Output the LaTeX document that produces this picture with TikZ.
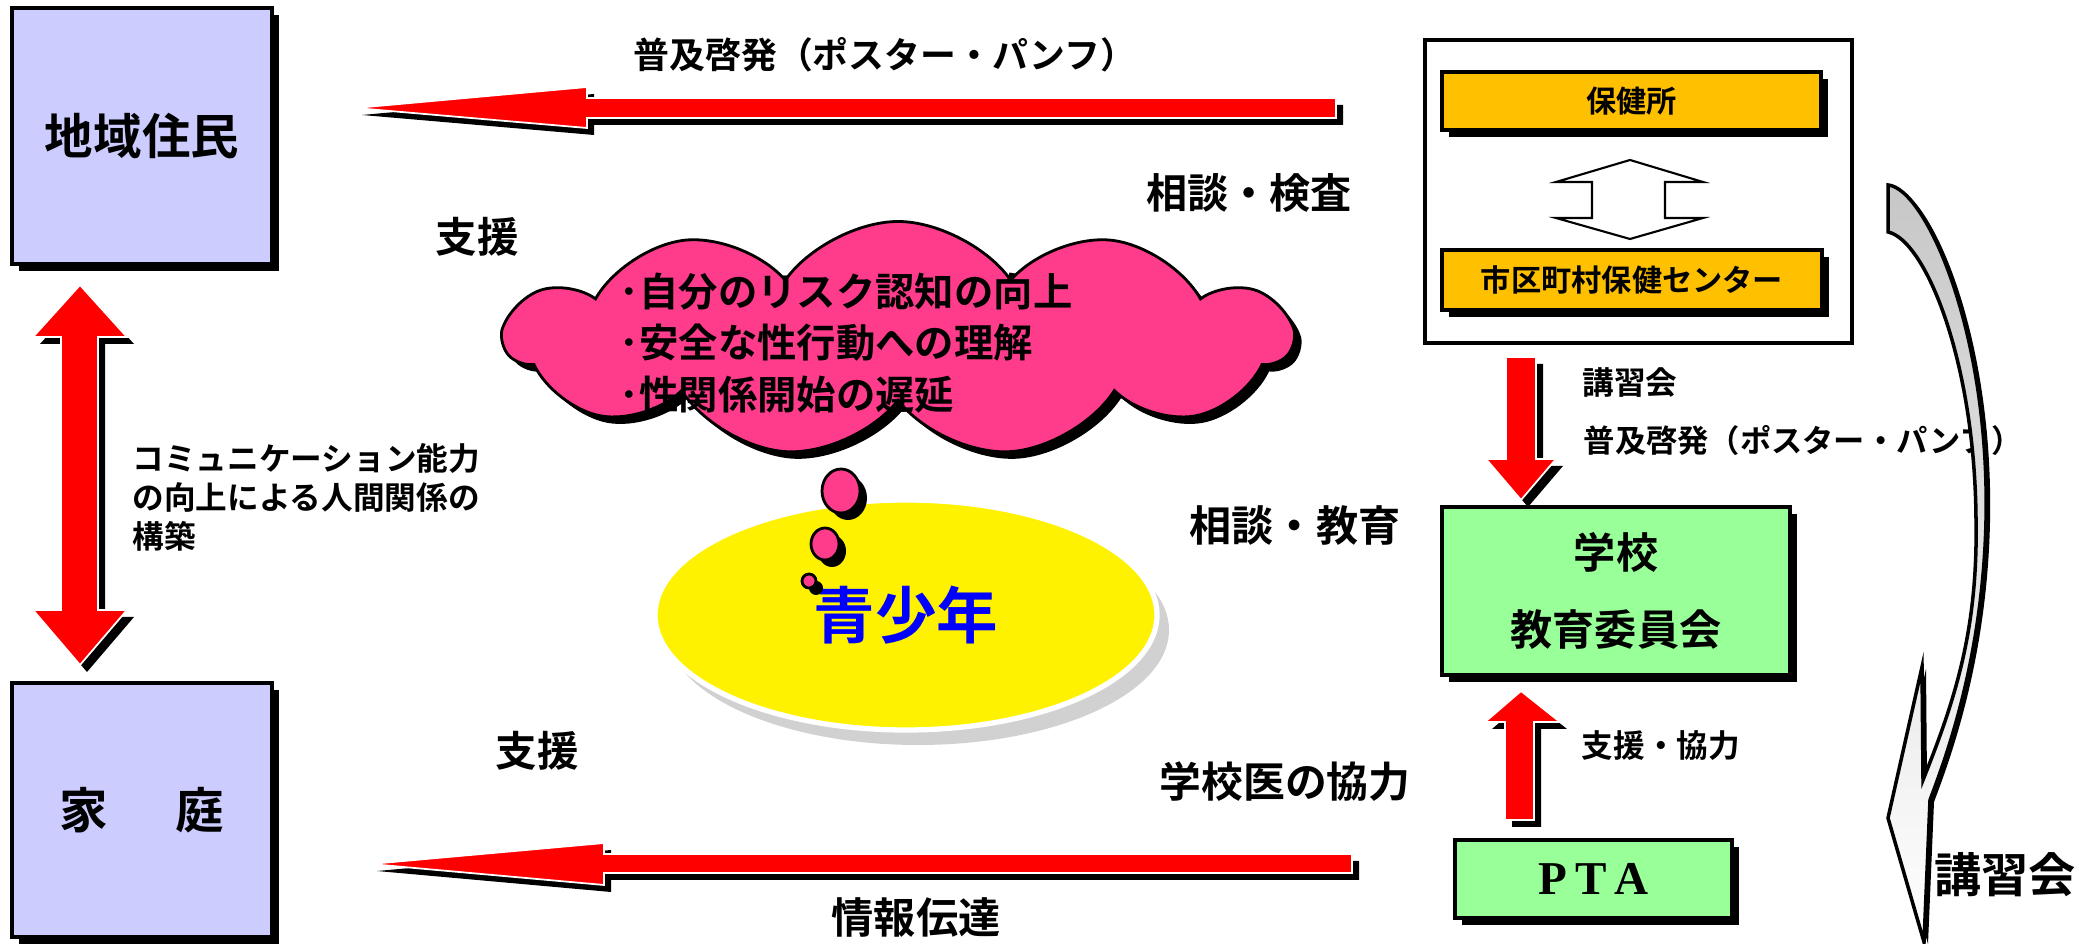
\documentclass[tikz,border=0pt]{standalone}
\usepackage{fontspec}
\setmainfont{Noto Sans CJK JP}[BoldFont={Noto Sans CJK JP Bold}]
\newfontfamily\serifpta{Liberation Serif}
\usetikzlibrary{shapes.geometric,shapes.symbols,shadows}

\definecolor{boxblue}{RGB}{204,204,255}
\definecolor{boxorange}{RGB}{255,192,0}
\definecolor{boxgreen}{RGB}{153,255,153}
\definecolor{cloudpink}{RGB}{255,60,140}
\definecolor{textblue}{RGB}{0,0,255}
\newcommand{\jfs}[2]{\fontsize{#1}{#2}\selectfont\bfseries}

\begin{document}
\begin{tikzpicture}[x=0.1mm, y=-0.1mm,
  blackshadow/.style={drop shadow={shadow xshift=0.7mm, shadow yshift=-0.7mm, opacity=1, fill=black}},
  box/.style={draw=black, line width=0.9pt, inner sep=0pt, blackshadow},
  txt/.style={inner sep=0pt, font=\jfs{#1}{#1}},
  redarrow/.style={fill=red, draw=white, line width=0.5pt, blackshadow},
  bubble/.style={ellipse, draw=black, line width=0.8pt, fill=cloudpink, inner sep=0pt, blackshadow}]
\useasboundingbox (0,0) rectangle (2079,944);

% left side
\node[box, fill=boxblue, minimum width=26mm, minimum height=25.6mm, font=\jfs{13.8}{13.8}] (resident) at (142,136) {地域住民};
\node[box, fill=boxblue, minimum width=26mm, minimum height=25.4mm, font=\jfs{13.8}{13.8}] (family) at (142,810) {家\hspace{1.4em}庭};
\filldraw[redarrow] (80,285) -- (127,337) -- (98,337) -- (98,610) -- (127,610) -- (80,665)
  -- (33,610) -- (61,610) -- (61,337) -- (33,337) -- cycle;
\node[inner sep=0pt, anchor=west, align=left, font=\jfs{9}{11.1}] (commu) at (132,497)
  {コミュニケーション能力\\の向上による人間関係の\\構築};

% top
\filldraw[redarrow] (355,108) -- (587,87) -- (587,98) -- (1336,98) -- (1336,118) -- (587,118) -- (587,128) -- cycle;
\node[txt=10.2] (spreadA) at (885,55) {普及啓発（ポスター・パンフ）};
\node[txt=11.7] (consultA) at (1249,193) {相談・検査};
\node[txt=11.8] (supportA) at (477,237) {支援};

% thought cloud
\node[cloud, cloud puffs=11, cloud puff arc=110, cloud ignores aspect, draw=black, line width=0.8pt,
  fill=cloudpink, minimum width=78.6mm, minimum height=23.5mm, blackshadow] (thought) at (898,339) {};
\node[inner sep=0pt, anchor=west, align=left, font=\jfs{11.2}{14.6}] (goals) at (619,343)
  {･自分のリスク認知の向上\\･安全な性行動への理解\\･性関係開始の遅延};

% youth
\node[ellipse, fill=yellow, draw=white, line width=1.5pt, minimum width=50.2mm, minimum height=23mm,
  text=textblue, font=\jfs{17.5}{17.5},
  drop shadow={shadow xshift=1.2mm, shadow yshift=-1.5mm, opacity=1, fill=black!18}] (youth) at (906,615) {青少年};
\node[bubble, minimum width=3.8mm, minimum height=4.4mm] (bubA) at (841,491) {};
\node[bubble, minimum width=2.8mm, minimum height=3.2mm] (bubB) at (825,544) {};
\node[bubble, minimum width=1.4mm, minimum height=1.4mm] (bubC) at (809,581) {};

% bottom
\node[txt=11.8] (supportB) at (537,751) {支援};
\node[txt=11.9] (doctor) at (1285,782) {学校医の協力};
\filldraw[redarrow] (370,864) -- (604,843) -- (604,854) -- (1352,854) -- (1352,873) -- (604,873) -- (604,885) -- cycle;
\node[txt=12] (info) at (916,918) {情報伝達};

% right side
\node[draw=black, line width=1.4pt, fill=white, minimum width=42.7mm, minimum height=30.3mm] (frame) at (1638.5,191.5) {};
\node[box, fill=boxorange, minimum width=37.9mm, minimum height=5.8mm, font=\jfs{8.6}{8.6}] (hc) at (1631.5,101) {保健所};
\node[box, fill=boxorange, minimum width=38mm, minimum height=6mm, font=\jfs{8.6}{8.6}] (hcc) at (1632,280) {市区町村保健センター};
\filldraw[fill=white, draw=black, line width=0.6pt] (1630,160) -- (1703,182) -- (1665,182) -- (1665,218) -- (1703,218)
  -- (1630,239) -- (1556,218) -- (1592,218) -- (1592,182) -- (1556,182) -- cycle;

\filldraw[redarrow] (1506,357) -- (1536,357) -- (1536,459) -- (1556,459) -- (1521,500) -- (1486,459) -- (1506,459) -- cycle;
\node[txt=9] (lectureA) at (1630,383) {講習会};
\node[txt=8.9] (spreadB) at (1803,441) {普及啓発（ポスター・パンフ）};

\node[box, fill=boxgreen, minimum width=34.8mm, minimum height=16.8mm, align=center, font=\jfs{12}{22}] (school) at (1616,591) {学校\\教育委員会};
\node[txt=12] (consultB) at (1295,526) {相談・教育};

\filldraw[redarrow] (1521,691) -- (1560,722) -- (1534,722) -- (1534,820) -- (1505,820) -- (1505,722) -- (1485,722) -- cycle;
\node[txt=9] (supportC) at (1661,746) {支援・協力};
\node[box, fill=boxgreen, minimum width=27.7mm, minimum height=7.8mm, font={\fontsize{13.4}{13.4}\selectfont\serifpta\bfseries}] (pta) at (1593.5,879) {P\,T\,A};

% curved arrow
\shadedraw[top color=black!22, bottom color=white, draw=black, line width=1pt,
  drop shadow={shadow xshift=0.4mm, shadow yshift=-0.2mm, opacity=1, fill=black}]
  (1888,185) .. controls (1925,188) and (1990,330) .. (1986,520)
  .. controls (1983,660) and (1945,760) .. (1930,800) -- (1924,942) -- (1888,818) -- (1922,667) -- (1923,780)
  .. controls (1955,700) and (1978,630) .. (1976,520)
  .. controls (1975,360) and (1925,240) .. (1888,232) -- cycle;
\node[txt=13.4] (lectureB) at (2005,875) {講習会};
\end{tikzpicture}
\end{document}
